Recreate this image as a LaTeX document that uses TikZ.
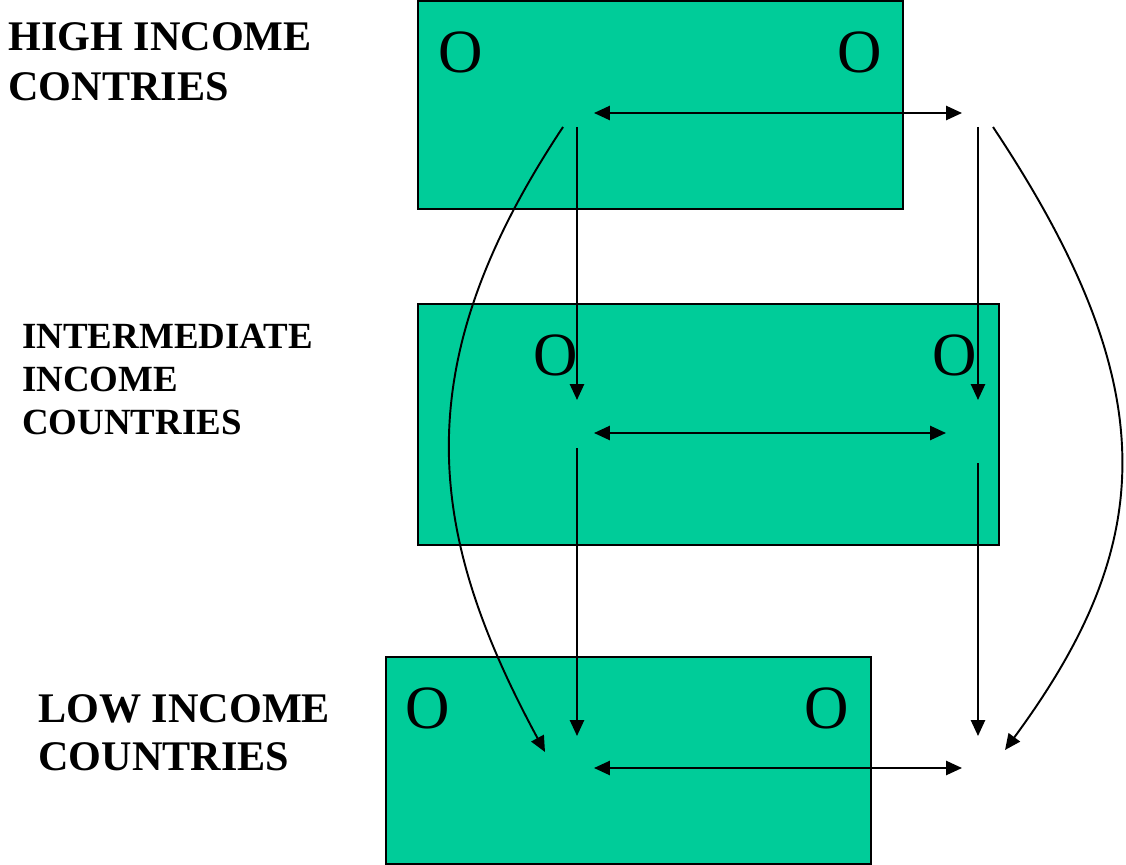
\documentclass[tikz,border=0pt]{standalone}
\usepackage{fontspec}
\setmainfont{Liberation Serif}
\usetikzlibrary{arrows.meta}
\definecolor{boxgreen}{RGB}{0,204,153}
\begin{document}
\begin{tikzpicture}[x=0.02cm, y=-0.02cm,
  box/.style={draw=black, line width=0.8pt, fill=boxgreen},
  flow/.style={line width=1.1pt, -{Triangle[length=9pt, width=8pt]}},
  both/.style={line width=1.1pt, {Triangle[length=9pt, width=8pt]}-{Triangle[length=9pt, width=8pt]}},
  mark O/.style={font=\fontsize{35}{35}\selectfont, inner sep=0pt},
  level/.style={font=\bfseries, align=left, anchor=north west, inner sep=0pt}]
  \useasboundingbox (0,0) rectangle (1126,865);

  % Coordinates
  \coordinate (A) at (594,113);
  \coordinate (B) at (962,113);
  \coordinate (C) at (594,433);
  \coordinate (D) at (946,433);
  \coordinate (E) at (594,768);
  \coordinate (F) at (962,768);
  \coordinate (G) at (577,127);
  \coordinate (H) at (577,400);
  \coordinate (I) at (978,127);
  \coordinate (J) at (978,400);
  \coordinate (K) at (577,448);
  \coordinate (L) at (577,736);
  \coordinate (M) at (978,463);
  \coordinate (N) at (978,736);
  \coordinate (P) at (563,127);
  \coordinate (Q) at (545,752);
  \coordinate (R) at (993,127);
  \coordinate (S) at (1005,750);

  % Drawing
  \draw[box] (418,1) rectangle (903,209);
  \draw[box] (418,304) rectangle (999,545);
  \draw[box] (386,657) rectangle (871,864);

  \node[level, font=\bfseries\fontsize{24}{28.5}\selectfont] (high) at (8,22) {HIGH INCOME\\CONTRIES};
  \node[level, font=\bfseries\fontsize{21}{24.4}\selectfont] (mid) at (22,324) {INTERMEDIATE\\INCOME\\COUNTRIES};
  \node[level, font=\bfseries\fontsize{24}{27.3}\selectfont] (low) at (38,694) {LOW INCOME\\COUNTRIES};

  \node[mark O] (o1) at (461,52) {O};
  \node[mark O] (o2) at (860,52) {O};
  \node[mark O] (o3) at (556,355) {O};
  \node[mark O] (o4) at (955,355) {O};
  \node[mark O] (o5) at (428,708) {O};
  \node[mark O] (o6) at (827,708) {O};

  \draw[both] (A) -- (B);
  \draw[both] (C) -- (D);
  \draw[both] (E) -- (F);
  \draw[flow] (G) -- (H);
  \draw[flow] (I) -- (J);
  \draw[flow] (K) -- (L);
  \draw[flow] (M) -- (N);
  \draw[flow] (P) .. controls (405,365) and (425,530) .. (Q);
  \draw[flow] (R) .. controls (1168,390) and (1156,545) .. (S);
\end{tikzpicture}
\end{document}
